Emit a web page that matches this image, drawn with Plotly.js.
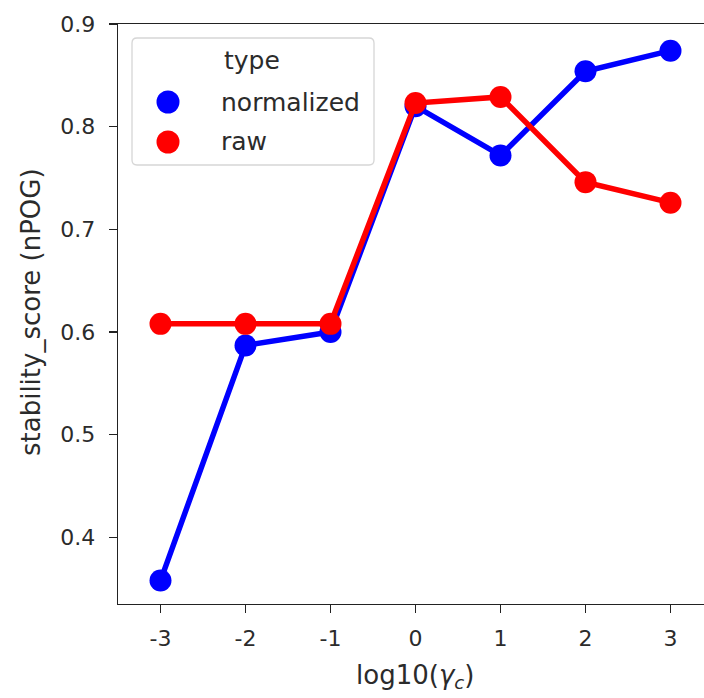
<!DOCTYPE html>
<html>
<head>
<meta charset="utf-8">
<script src="https://cdn.plot.ly/plotly-3.0.1.min.js"></script>
<style>
html,body{margin:0;padding:0;overflow:hidden;background:#fff;}
#chart{width:720px;height:698px;}
</style>
</head>
<body>
<div id="chart"></div>
<script>
// ---- data ----
const categories = ['-3', '-2', '-1', '0', '1', '2', '3'];
const seriesNames = ['normalized', 'raw'];
const normalizedValues = [0.358, 0.587, 0.600, 0.820, 0.772, 0.854, 0.874];
const rawValues = [0.608, 0.608, 0.608, 0.823, 0.829, 0.746, 0.726];
const yTickValues = [0.4, 0.5, 0.6, 0.7, 0.8, 0.9];
const yTickLabels = ['0.4', '0.5', '0.6', '0.7', '0.8', '0.9'];
const legendTitle = 'type';
const xLabel = 'log10(<i>γ</i><sub><i>c</i></sub>)';
const yLabel = 'stability_score (nPOG)';

// ---- geometry ----
const W = 720, H = 698, L = 118, R = 7, T = 24, B = 94;
const pw = W - L - R, ph = H - T - B;
const px = x => (x - L) / pw;
const py = y => (H - B - y) / ph;

const colors = ['#0000ff', '#ff0000'];
const FONT = 'DejaVu Sans';
const TXT = '#2b2b2b';
const FS = 22;

const seriesValues = [normalizedValues, rawValues];
const traces = seriesNames.map((n, i) => ({
  type: 'scatter', mode: 'lines+markers', name: n,
  x: categories, y: seriesValues[i],
  line: {color: colors[i], width: 5.5},
  marker: {color: colors[i], size: 22, line: {width: 0}},
  showlegend: false, hoverinfo: 'x+y'
}));

// manual legend (matplotlib style)
const shapes = [];
const annotations = [];
const lx0 = 132, lx1 = 374, ly0 = 38, ly1 = 165, r = 5;
const rx = r / pw, ry = r / ph;
const X0 = px(lx0), X1 = px(lx1), Y0 = py(ly0), Y1 = py(ly1);
shapes.push({
  type: 'path', xref: 'paper', yref: 'paper',
  path: `M ${X0 + rx},${Y0} L ${X1 - rx},${Y0} Q ${X1},${Y0} ${X1},${Y0 - ry} L ${X1},${Y1 + ry} Q ${X1},${Y1} ${X1 - rx},${Y1} L ${X0 + rx},${Y1} Q ${X0},${Y1} ${X0},${Y1 + ry} L ${X0},${Y0 - ry} Q ${X0},${Y0} ${X0 + rx},${Y0} Z`,
  fillcolor: 'rgba(255,255,255,0.8)', line: {color: '#d6d6d6', width: 1.3}, layer: 'above'
});
annotations.push({
  xref: 'paper', yref: 'paper', x: px(252), y: py(60), text: legendTitle,
  showarrow: false, xanchor: 'center', yanchor: 'middle',
  font: {family: FONT, size: 25, color: TXT}
});
const itemY = [102, 142];
seriesNames.forEach((n, i) => {
  const cx = 168, cy = itemY[i], mr = 11.5;
  shapes.push({
    type: 'circle', xref: 'paper', yref: 'paper',
    x0: px(cx - mr), x1: px(cx + mr), y0: py(cy + mr), y1: py(cy - mr),
    fillcolor: colors[i], line: {width: 0}, layer: 'above'
  });
  annotations.push({
    xref: 'paper', yref: 'paper', x: px(219), y: py(cy), text: n,
    showarrow: false, xanchor: 'left', yanchor: 'middle',
    font: {family: FONT, size: 25, color: TXT}
  });
});
// axis labels
annotations.push({
  xref: 'paper', yref: 'paper', x: px(415), y: py(676), text: xLabel,
  showarrow: false, xanchor: 'center', yanchor: 'middle',
  font: {family: FONT, size: 26, color: TXT}
});
annotations.push({
  xref: 'paper', yref: 'paper', x: px(31), y: py(312), text: yLabel,
  showarrow: false, xanchor: 'center', yanchor: 'middle', textangle: -90,
  font: {family: FONT, size: 26, color: TXT}
});

const layout = {
  width: W, height: H,
  margin: {l: L, r: R, t: T, b: B, pad: 0},
  paper_bgcolor: '#fff', plot_bgcolor: '#fff',
  showlegend: false,
  font: {family: FONT, size: FS, color: TXT},
  xaxis: {
    type: 'category', range: [-0.5, 6.5], showgrid: false, zeroline: false,
    showline: true, mirror: true, linecolor: '#222', linewidth: 1.4,
    ticks: 'outside', ticklen: 8, tickwidth: 1.4, tickcolor: '#222',
    tickfont: {family: FONT, size: FS, color: TXT}, ticklabelstandoff: 6,
    fixedrange: true
  },
  yaxis: {
    range: [0.3352, 0.9], showgrid: false, zeroline: false,
    showline: true, mirror: true, linecolor: '#222', linewidth: 1.4,
    ticks: 'outside', ticklen: 8, tickwidth: 1.4, tickcolor: '#222',
    tickvals: yTickValues, ticktext: yTickLabels,
    tickfont: {family: FONT, size: FS, color: TXT}, ticklabelstandoff: 9,
    fixedrange: true
  },
  shapes: shapes, annotations: annotations
};

Plotly.newPlot('chart', traces, layout, {displayModeBar: false, staticPlot: true});
</script>
</body>
</html>
